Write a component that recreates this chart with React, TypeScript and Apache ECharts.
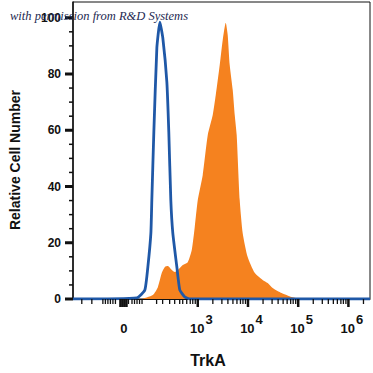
import React, { useEffect, useRef } from 'react';
import * as echarts from 'echarts';

// Display axis units: biexponential-like; decades at 3..6, zero at ~1.51
const X_MIN = 0.515;
const X_MAX = 6.43;
const Y_MIN = 0;
const Y_MAX = 105.6;

const blueX = [0.515, 1.787, 1.946, 2.006, 2.066, 2.085, 2.125, 2.185, 2.245, 2.304, 2.384, 2.423, 2.463, 2.503, 2.583, 2.642, 2.742, 2.85, 6.43];
const blueY = [0, 0.4, 3.2, 11.4, 23.4, 35.2, 59.4, 89.3, 98.4, 92.8, 77.2, 59.4, 35.2, 23.4, 11.4, 3.2, 0.7, 0, 0];

const orangeX = [1.887, 2.105, 2.205, 2.284, 2.344, 2.404, 2.483, 2.543, 2.602, 2.702, 2.801, 2.881, 2.94, 3.0, 3.099, 3.199, 3.298, 3.358, 3.437, 3.497, 3.557, 3.596, 3.636, 3.696, 3.736, 3.775, 3.835, 3.895, 3.994, 4.133, 4.292, 4.392, 4.491, 4.67, 4.869, 5.068];
const orangeY = [0, 1.4, 4.2, 9.3, 11.4, 11.7, 10.3, 9.6, 10.3, 12.1, 13.1, 17.5, 25.7, 35.2, 44.1, 58.3, 65.4, 72.5, 83.2, 92.1, 98.2, 93.9, 83.2, 74.3, 65.4, 58.3, 35.2, 23.4, 14.9, 9.3, 6.8, 5.7, 3.9, 2.1, 0.7, 0];

const yLabelValues = [0, 20, 40, 60, 80, 100];
const yMajorTicks = [0, 20, 40, 60, 80, 100];
const yMinorTicks = [5, 10, 15, 25, 30, 35, 45, 50, 55, 65, 70, 75, 85, 90, 95];

const xLabelValues = [1.51, 3, 4, 5, 6];
const xLabelBase = ['0', '10', '10', '10', '10'];
const xLabelExp = ['', '3', '4', '5', '6'];
const xMajorTicks = [1.46, 1.5, 1.54, 1.58, 3, 4, 5, 6];
const xMinorTicks = [
  0.69, 0.89, 1.11, 1.16, 1.21, 1.26, 1.31, 1.36, 1.62, 1.69, 1.74, 1.79, 1.84, 1.89,
  2.18, 2.3, 2.44, 2.54, 2.64, 2.7, 2.78, 2.85, 2.9, 2.95,
  3.3, 3.48, 3.6, 3.7, 3.78, 3.85, 3.9, 3.95,
  4.3, 4.48, 4.6, 4.7, 4.78, 4.85, 4.9, 4.95,
  5.3, 5.48, 5.6, 5.7, 5.78, 5.85, 5.9, 5.95,
  6.3,
];

const BLUE = '#1f58a7';
const ORANGE = '#f5821f';
const INK = '#111111';

function xTickSeries(vals: number[], len: number, thick: number) {
  return {
    type: 'custom',
    clip: false,
    silent: true,
    z: 6,
    data: vals.map((v) => [v, 0]),
    renderItem: (_p: any, api: any) => {
      const pt = api.coord([api.value(0), 0]);
      return {
        type: 'rect',
        shape: { x: pt[0] - thick / 2, y: pt[1], width: thick, height: len },
        style: { fill: INK },
      };
    },
  };
}

function yTickSeries(vals: number[], len: number, thick: number) {
  return {
    type: 'custom',
    clip: false,
    silent: true,
    z: 6,
    data: vals.map((v) => [X_MIN, v]),
    renderItem: (_p: any, api: any) => {
      const pt = api.coord([X_MIN, api.value(1)]);
      return {
        type: 'rect',
        shape: { x: pt[0] - len, y: pt[1] - thick / 2, width: len, height: thick },
        style: { fill: INK },
      };
    },
  };
}

const labelFont = {
  fontFamily: 'Liberation Sans',
  fontWeight: 'bold',
  fontSize: 13,
  color: INK,
};

export default function App() {
  const ref = useRef<HTMLDivElement>(null);
  useEffect(() => {
    if (!ref.current) return;
    const chart = echarts.init(ref.current, undefined, { renderer: 'svg' });
    const nearestIdx = (v: number) => {
      let best = 0;
      xLabelValues.forEach((x, i) => {
        if (Math.abs(x - v) < Math.abs(xLabelValues[best] - v)) best = i;
      });
      return best;
    };
    chart.setOption({
      animation: false,
      backgroundColor: '#ffffff',
      grid: {
        left: 73,
        right: 3,
        top: 2,
        bottom: 74,
        show: true,
        borderColor: INK,
        borderWidth: 1,
      },
      xAxis: {
        type: 'value',
        min: X_MIN,
        max: X_MAX,
        axisLine: { show: true, lineStyle: { color: INK, width: 1 } },
        axisTick: { show: false },
        splitLine: { show: false },
        axisLabel: {
          customValues: xLabelValues,
          margin: 14,
          formatter: (v: number) => {
            const i = nearestIdx(v);
            return xLabelExp[i]
              ? `{b|${xLabelBase[i]}}{s|${xLabelExp[i]}}`
              : `{z|${xLabelBase[i]}}`;
          },
          rich: {
            b: { ...labelFont, verticalAlign: 'bottom', padding: [0, 0, 0, 7] },
            s: { ...labelFont, verticalAlign: 'top', padding: [0, 0, 9, 1] },
            z: { ...labelFont, verticalAlign: 'bottom', padding: [9, 0, 0, 2] },
          },
        },
      },
      yAxis: {
        type: 'value',
        min: Y_MIN,
        max: Y_MAX,
        axisLine: { show: true, lineStyle: { color: INK, width: 1.5 } },
        axisTick: { show: false },
        splitLine: { show: false },
        axisLabel: {
          customValues: yLabelValues,
          margin: 12,
          fontFamily: 'Liberation Sans',
          fontWeight: 'bold',
          fontSize: 12,
          color: INK,
        },
      },
      graphic: [
        {
          type: 'text',
          x: 15,
          y: 160,
          rotation: Math.PI / 2,
          style: {
            text: 'Relative Cell Number',
            font: 'bold 14px "Liberation Sans"',
            fill: INK,
            textAlign: 'center',
            textVerticalAlign: 'middle',
          },
        },
        {
          type: 'text',
          x: 208,
          y: 360,
          style: {
            text: 'TrkA',
            font: 'bold 16px "Liberation Sans"',
            fill: INK,
            textAlign: 'center',
            textVerticalAlign: 'middle',
          },
        },
        {
          type: 'text',
          x: 10,
          y: 16,
          z: 100,
          style: {
            text: 'with permission from R&D Systems',
            font: 'italic 12.5px "Liberation Serif"',
            fill: '#1e2a52',
            textAlign: 'left',
            textVerticalAlign: 'middle',
          },
        },
      ],
      series: [
        {
          type: 'line',
          data: orangeX.map((x, i) => [x, orangeY[i]]),
          showSymbol: false,
          smooth: 0.2,
          lineStyle: { width: 0 },
          itemStyle: { color: ORANGE },
          areaStyle: { color: ORANGE, opacity: 1 },
          z: 2,
        },
        {
          type: 'line',
          data: blueX.map((x, i) => [x, blueY[i]]),
          showSymbol: false,
          smooth: 0.15,
          lineStyle: { width: 2.8, color: BLUE },
          itemStyle: { color: BLUE },
          z: 3,
        },
        xTickSeries(xMajorTicks, 8, 2.5),
        xTickSeries(xMinorTicks, 5, 1.3),
        yTickSeries(yMajorTicks, 8, 3),
        yTickSeries(yMinorTicks, 4, 1.5),
      ],
    });
    return () => chart.dispose();
  }, []);
  return (
    <div
      ref={ref}
      style={{ position: 'fixed', left: 0, top: 0, width: 373, height: 373 }}
    />
  );
}
